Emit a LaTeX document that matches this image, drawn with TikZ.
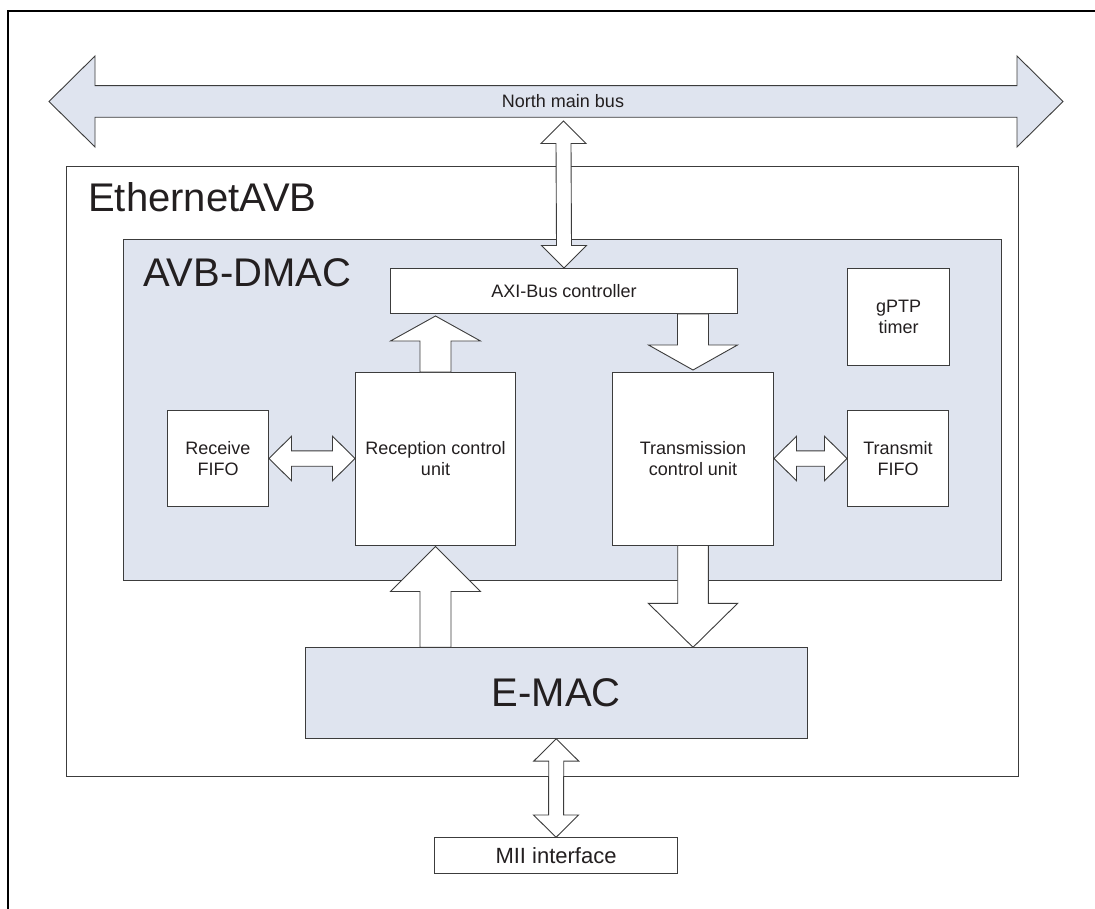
\documentclass[tikz,border=0pt]{standalone}
\usepackage{fontspec}
\setmainfont{Liberation Sans}
\usetikzlibrary{calc}
\definecolor{panel}{RGB}{223,228,239}
\definecolor{edge}{RGB}{60,60,60}
\definecolor{ink}{RGB}{35,31,32}
\tikzset{
  box/.style={draw=edge, line width=1pt, fill=white, inner sep=0pt, anchor=north west,
    text=ink, align=center, font=\fontsize{18}{21}\selectfont},
  panelbox/.style={box, fill=panel},
  blockarrow/.style={draw=edge, line width=0.9pt, line join=miter},
  biglabel/.style={anchor=base west, inner sep=0pt, text=ink, font=\fontsize{40}{44}\selectfont},
}
% #2 top tip, #3 bottom tip, #4 half shaft, #5 half head, #6 head length
\newcommand\VDArrow[6][white]{\draw[blockarrow,fill=#1] (#2) -- ($(#2)+(#5,#6)$) -- ($(#2)+(#4,#6)$) -- ($(#3)+(#4,-#6)$) -- ($(#3)+(#5,-#6)$) -- (#3) -- ($(#3)+(-#5,-#6)$) -- ($(#3)+(-#4,-#6)$) -- ($(#2)+(-#4,#6)$) -- ($(#2)+(-#5,#6)$) -- cycle;}
% #2 left tip, #3 right tip
\newcommand\HDArrow[6][white]{\draw[blockarrow,fill=#1] (#2) -- ($(#2)+(#6,-#5)$) -- ($(#2)+(#6,-#4)$) -- ($(#3)+(-#6,-#4)$) -- ($(#3)+(-#6,-#5)$) -- (#3) -- ($(#3)+(-#6,#5)$) -- ($(#3)+(-#6,#4)$) -- ($(#2)+(#6,#4)$) -- ($(#2)+(#6,#5)$) -- cycle;}
% #2 tip (top), #3 tail centre (bottom)
\newcommand\UArrow[6][white]{\draw[blockarrow,fill=#1] (#2) -- ($(#2)+(#5,#6)$) -- ($(#2)+(#4,#6)$) -- ($(#3)+(#4,0)$) -- ($(#3)+(-#4,0)$) -- ($(#2)+(-#4,#6)$) -- ($(#2)+(-#5,#6)$) -- cycle;}
% #2 tail centre (top), #3 tip (bottom)
\newcommand\DArrow[6][white]{\draw[blockarrow,fill=#1] (#3) -- ($(#3)+(#5,-#6)$) -- ($(#3)+(#4,-#6)$) -- ($(#2)+(#4,0)$) -- ($(#2)+(-#4,0)$) -- ($(#3)+(-#4,-#6)$) -- ($(#3)+(-#5,-#6)$) -- cycle;}
\begin{document}
\begin{tikzpicture}[x=1pt,y=-1pt]
\useasboundingbox (0,0) rectangle (1095,909);
\fill[white] (0,0) rectangle (1095,909);
% outer frame
\draw[black, line width=2.2pt] (1096,11) -- (8,11) -- (8,910);

% north main bus
\coordinate (busL) at (49,101.5);
\coordinate (busR) at (1063,101.5);
\HDArrow[panel]{busL}{busR}{15.8}{45.5}{46}
\node[text=ink, font=\fontsize{18}{21}\selectfont, inner sep=0pt] (bus) at (563,101) {North main bus};

% containers
\node[box, minimum width=952, minimum height=610] (eth) at (66,166) {};
\node[biglabel] (ethlbl) at (88,212) {EthernetAVB};
\node[panelbox, minimum width=878, minimum height=341] (dmac) at (123,239) {};
\node[biglabel] (dmaclbl) at (143,287) {AVB-DMAC};

% blocks
\node[box, minimum width=347, minimum height=45] (axi) at (390,268) {AXI-Bus controller};
\node[box, minimum width=102, minimum height=97] (gptp) at (847,268) {gPTP\\timer};
\node[box, minimum width=101, minimum height=96] (rxf) at (167,410) {Receive\\FIFO};
\node[box, minimum width=160, minimum height=172.5] (rcu) at (355,372) {Reception control\\unit};
\node[box, minimum width=161, minimum height=172.5] (tcu) at (612,372) {Transmission\\control unit};
\node[box, minimum width=101, minimum height=96] (txf) at (847,410) {Transmit\\FIFO};
\node[panelbox, minimum width=501.5, minimum height=90.5, font=\fontsize{40}{44}\selectfont] (emac) at (305,647.3) {E-MAC};
\node[box, minimum width=242.5, minimum height=35.5, font=\fontsize{22}{24}\selectfont] (mii) at (434.3,837.3) {MII interface};

% connectors
\coordinate (bt) at (563.5,121);
\VDArrow{bt}{axi.north}{7.5}{22.5}{22.5}
\coordinate (rtip) at ($(rcu.north |- axi.south)+(0,2)$);
\UArrow{rtip}{rcu.north}{15.5}{45}{25}
\coordinate (ttop) at (tcu.north |- axi.south);
\coordinate (ttip) at ($(tcu.north)+(0,-2)$);
\DArrow{ttop}{ttip}{15.5}{44.5}{25}
\coordinate (rxr) at (rcu.west |- rxf.east);
\HDArrow{rxf.east}{rxr}{7.7}{22.3}{22.5}
\coordinate (txl) at (tcu.east |- txf.west);
\HDArrow{txl}{txf.west}{7.7}{22.3}{22.5}
\coordinate (etip) at ($(rcu.south)+(0,1)$);
\coordinate (ebase) at (rcu.south |- emac.north);
\UArrow{etip}{ebase}{15.5}{45}{45}
\coordinate (dtip) at (tcu.south |- emac.north);
\DArrow{tcu.south}{dtip}{15.3}{44.7}{44}
\VDArrow{emac.south}{mii.north}{7.5}{22.5}{22.3}
\end{tikzpicture}
\end{document}
